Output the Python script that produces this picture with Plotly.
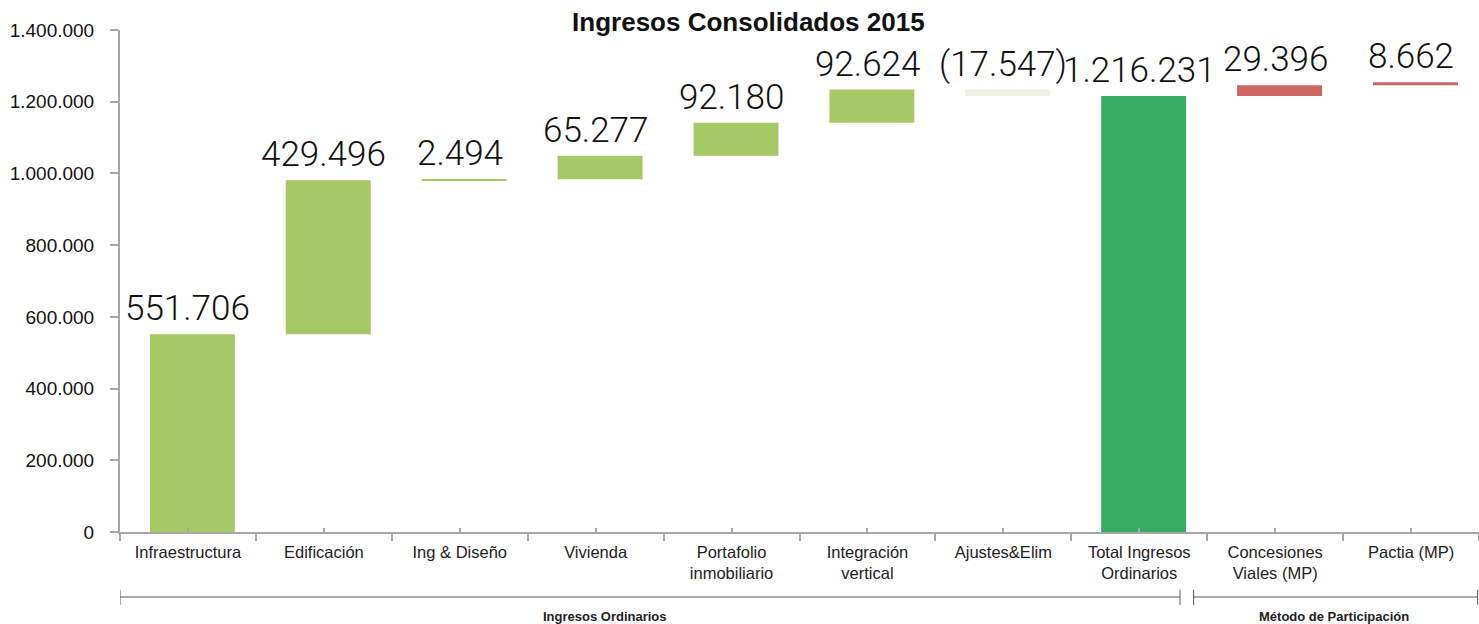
import plotly.graph_objects as go

categories = ["Infraestructura", "Edificación", "Ing & Diseño", "Vivienda",
              "Portafolio<br>inmobiliario", "Integración<br>vertical", "Ajustes&Elim",
              "Total Ingresos<br>Ordinarios", "Concesiones<br>Viales (MP)", "Pactia (MP)"]
values = [551706, 429496, 2494, 65277, 92180, 92624, -17547, 1216231, 29396, 8662]
is_total = [False, False, False, False, False, False, False, True, False, False]
colors = ["#A4C964", "#A4C964", "#A4C964", "#A4C964", "#A4C964", "#A4C964",
          "#EFF1E3", "#37AD63", "#CC6660", "#CC6660"]

group_labels = ["Ingresos Ordinarios", "Método de Participación"]

# running bases
bases = []
run = 0
for v, t in zip(values, is_total):
    if t:
        bases.append(0)
        run = v
    else:
        bases.append(run)
        run += v
tops = [max(b, b + v) for b, v in zip(bases, values)]


def fmt(v):
    s = f"{abs(v):,}".replace(",", ".")
    return f"({s})" if v < 0 else s


labels = [fmt(v) for v in values]

fig = go.Figure()
fig.add_trace(go.Bar(
    x=categories, y=values, base=bases, width=0.625, offset=-0.28,
    marker=dict(color=colors, line=dict(width=0)), showlegend=False,
    hoverinfo="skip"))
# invisible trace on overlay axis to carry the centre tick marks
fig.add_trace(go.Scatter(
    x=categories, y=tops, mode="markers", marker=dict(opacity=0),
    xaxis="x2", showlegend=False, hoverinfo="skip"))

for c, t, lab in zip(categories, tops, labels):
    fig.add_annotation(x=c, y=t, text=lab, showarrow=False, xref="x", yref="y",
                       yanchor="bottom", yshift=3,
                       font=dict(family="Roboto", size=35, color="#111", weight=300))

fig.update_layout(
    width=1479, height=624,
    margin=dict(l=120, r=0, t=30, b=92),
    plot_bgcolor="white", paper_bgcolor="white",
    separators=",.",
    title=dict(text="<b>Ingresos Consolidados 2015</b>", x=0.506, xref="container",
               y=1 - 22 / 624, yref="container", xanchor="center", yanchor="middle",
               font=dict(family="Liberation Sans", size=26, color="#111")),
    xaxis=dict(type="category", categoryorder="array", categoryarray=categories,
               range=[-0.5, 9.5], tickson="boundaries", ticks="outside", ticklen=7,
               tickwidth=2, tickcolor="#A6A6A6", showline=True, linecolor="#A6A6A6",
               linewidth=2, showgrid=False, zeroline=False, ticklabelstandoff=4,
               tickfont=dict(family="Liberation Sans", size=16.5, color="#222")),
    xaxis2=dict(type="category", categoryorder="array", categoryarray=categories,
                overlaying="x", anchor="y", side="bottom", range=[-0.5, 9.5],
                ticks="inside", ticklen=4, tickwidth=2, tickcolor="#A6A6A6",
                showticklabels=False, showline=False, showgrid=False, zeroline=False),
    yaxis=dict(range=[0, 1400000], dtick=200000, tickformat=",", ticks="outside",
               ticklen=8, tickwidth=2, tickcolor="#A6A6A6", showline=True,
               linecolor="#A6A6A6", linewidth=2, showgrid=False, zeroline=False,
               ticklabelstandoff=12,
               tickfont=dict(family="Liberation Sans", size=19, color="#111")),
)

# group brackets below the axis
line_style = dict(color="#555", width=1)
y_line = -0.1295
for x0, x1 in [(-0.5, 7.30), (7.40, 9.49)]:
    fig.add_shape(type="line", xref="x", yref="paper", x0=x0, x1=x1, y0=y_line, y1=y_line, line=line_style)
    for xx in (x0, x1):
        fig.add_shape(type="line", xref="x", yref="paper", x0=xx, x1=xx, y0=-0.115, y1=-0.145, line=line_style)

for txt, xc in zip(group_labels, [3.07, 8.43]):
    fig.add_annotation(text=f"<b>{txt}</b>", x=xc, xref="x", y=-0.169, yref="paper",
                       showarrow=False, yanchor="middle",
                       font=dict(family="Liberation Sans", size=13, color="#222"))

fig.write_html("out.html", config={"displayModeBar": False},
               post_script="document.body.style.margin='0px';")
